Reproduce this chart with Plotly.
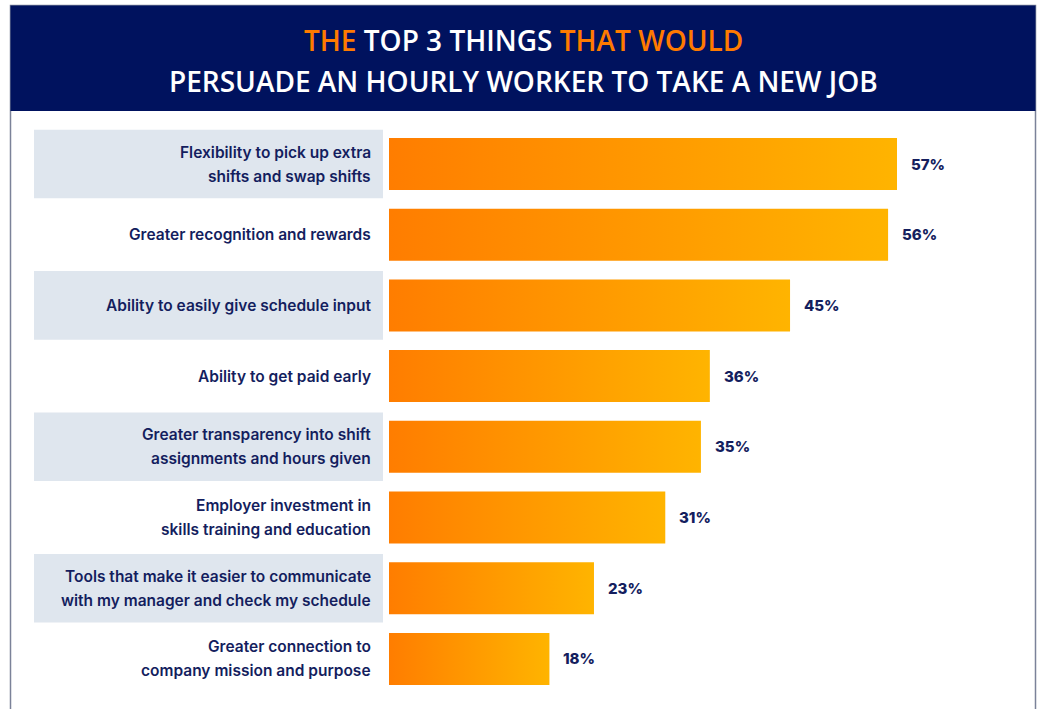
import plotly.graph_objects as go

# Survey results: share of hourly workers naming each factor
categories = [
    "Flexibility to pick up extra<br>shifts and swap shifts",
    "Greater recognition and rewards",
    "Ability to easily give schedule input",
    "Ability to get paid early",
    "Greater transparency into shift<br>assignments and hours given",
    "Employer investment in<br>skills training and education",
    "Tools that make it easier to communicate<br>with my manager and check my schedule",
    "Greater connection to<br>company mission and purpose",
]
values = [57, 56, 45, 36, 35, 31, 23, 18]
value_labels = ["57%", "56%", "45%", "36%", "35%", "31%", "23%", "18%"]

W, H = 1040, 709
NAVY = "#00125e"
TEXT_NAVY = "#141e5e"
ORANGE = "#ff7a00"
BOX = "#dfe6ee"

BAR_HALF = 0.368
BOX_HALF = 0.485
LINE_GAP = 24  # px between the two lines of a wrapped label

fig = go.Figure()

for i, v in enumerate(values):
    fig.add_trace(go.Scatter(
        x=[0, v, v, 0, 0],
        y=[i - BAR_HALF, i - BAR_HALF, i + BAR_HALF, i + BAR_HALF, i - BAR_HALF],
        mode="lines",
        line=dict(width=0),
        fill="toself",
        fillgradient=dict(
            type="horizontal",
            colorscale=[[0, "#ff7d00"], [1, "#ffb400"]],
        ),
        hoverinfo="skip",
        showlegend=False,
    ))

shapes = []
annotations = []

# Outer frame and header band
shapes.append(dict(type="rect", xref="paper", yref="paper",
                   x0=10.5 / W, x1=1035.5 / W, y0=-0.05, y1=1 - 5.5 / H,
                   line=dict(color="#7b8299", width=1.5), fillcolor="rgba(0,0,0,0)",
                   layer="below"))
shapes.append(dict(type="rect", xref="paper", yref="paper",
                   x0=10.5 / W, x1=1035.5 / W, y0=1 - 111 / H, y1=1 - 5.5 / H,
                   line=dict(width=0), fillcolor=NAVY, layer="below"))

label_font = dict(family="Inter", size=15.5, color=TEXT_NAVY, weight=600)

for i, (cat, v, lab) in enumerate(zip(categories, values, value_labels)):
    if i % 2 == 0:
        shapes.append(dict(type="rect", xref="paper", yref="y",
                           x0=34 / W, x1=383 / W,
                           y0=i - BOX_HALF, y1=i + BOX_HALF,
                           line=dict(width=0), fillcolor=BOX, layer="below"))
    lines = cat.split("<br>")
    n = len(lines)
    for k, line in enumerate(lines):
        shift = ((n - 1) / 2 - k) * LINE_GAP
        annotations.append(dict(
            xref="paper", yref="y", x=373 / W, y=i, text=line,
            xanchor="right", yanchor="middle", align="right", showarrow=False,
            yshift=shift, font=label_font,
        ))
    annotations.append(dict(
        xref="x", yref="y", x=v, y=i, text=lab,
        xanchor="left", yanchor="middle", showarrow=False, xshift=12,
        font=dict(family="Inter", size=15, color=TEXT_NAVY, weight=800),
    ))

# Title lines
title_font = dict(family="Open Sans", size=28, color="white", weight=600)
annotations.append(dict(
    xref="paper", yref="paper", x=523 / W, y=1 - 40 / H,
    text=f"<span style='color:{ORANGE}'>THE</span> TOP 3 THINGS "
         f"<span style='color:{ORANGE}'>THAT WOULD</span>",
    xanchor="center", yanchor="middle", showarrow=False, font=title_font,
))
annotations.append(dict(
    xref="paper", yref="paper", x=523 / W, y=1 - 81 / H,
    text="PERSUADE AN HOURLY WORKER TO TAKE A NEW JOB",
    xanchor="center", yanchor="middle", showarrow=False, font=title_font,
))

PX_PER = (897 - 389) / 57
fig.update_layout(
    width=W, height=H,
    margin=dict(l=0, r=0, t=0, b=0),
    paper_bgcolor="white", plot_bgcolor="white",
    xaxis=dict(range=[-389 / PX_PER, (W - 389) / PX_PER], visible=False,
               fixedrange=True),
    yaxis=dict(range=[(H - 164) / 70.7, -164 / 70.7], visible=False,
               fixedrange=True),
    shapes=shapes,
    annotations=annotations,
    showlegend=False,
)

fig.write_html("out.html")
